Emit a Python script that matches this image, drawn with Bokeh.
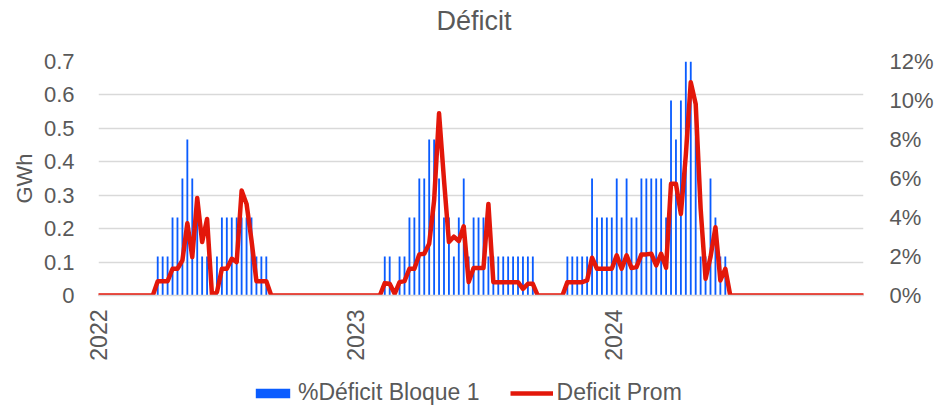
import math
import pandas as pd
from bokeh.plotting import figure
from bokeh.layouts import column
from bokeh.models import (Range1d, LinearAxis, FixedTicker, NumeralTickFormatter,
                          PrintfTickFormatter, CustomJSTickFormatter, Legend, LegendItem,
                          ColumnDataSource, Title)
from bokeh.embed import file_html
from bokeh.resources import INLINE

# ---------------- data ----------------
title_text = "Déficit"
bar_series_name = "%Déficit Bloque 1"
line_series_name = "Deficit Prom"
y_left_label = "GWh"
first_week = "2022-01-01"
year_ticks = ["2022-01-01", "2023-01-01", "2024-01-01"]
gwh_ticks = [0, 0.1, 0.2, 0.3, 0.4, 0.5, 0.6, 0.7]
pct_ticks = [0, 2, 4, 6, 8, 10, 12]

# weekly % deficit (bars, right axis)
deficit_pct = [
    0, 0, 0, 0, 0, 0, 0, 0, 0, 0, 0, 0,
    2, 2, 2, 4, 4, 6, 8, 6, 4, 2, 2, 0, 2, 4, 4, 4, 4, 4, 4, 4, 2, 2, 2,
    0, 0, 0, 0, 0, 0, 0, 0, 0, 0, 0, 0, 0, 0, 0, 0, 0, 0, 0, 0, 0, 0, 0,
    2, 2, 0, 2, 2, 4, 4, 6, 6, 8, 8, 6, 4, 4, 2, 4, 6, 2, 4, 4, 4, 2,
    2, 2, 2, 2, 2, 2, 2, 2, 2,
    0, 0, 0, 0, 0, 0,
    2, 2, 2, 2, 2, 6, 4, 4, 4, 4, 6, 4, 6, 4, 4, 6, 6, 6, 6, 6, 4,
    10, 8, 10, 12, 12, 10, 2, 2, 6, 4, 2, 2,
    0, 0, 0, 0, 0, 0, 0, 0, 0, 0, 0, 0, 0, 0, 0, 0, 0, 0, 0, 0, 0, 0, 0, 0, 0, 0, 0, 0,
]

# weekly average deficit in GWh (line, left axis)
deficit_gwh = [
    0, 0, 0, 0, 0, 0, 0, 0, 0, 0, 0, 0,
    0.043, 0.043, 0.043, 0.08, 0.08, 0.105, 0.216, 0.115, 0.292, 0.16, 0.229, 0.0,
    0.01, 0.08, 0.08, 0.11, 0.10, 0.314, 0.274, 0.165, 0.043, 0.043, 0.043,
    0, 0, 0, 0, 0, 0, 0, 0, 0, 0, 0, 0, 0, 0, 0, 0, 0, 0, 0, 0, 0, 0, 0,
    0.037, 0.035, 0.005, 0.04, 0.043, 0.08, 0.08, 0.123, 0.125, 0.155, 0.284, 0.545,
    0.346, 0.16, 0.176, 0.163, 0.207, 0.04, 0.082, 0.082, 0.082, 0.274,
    0.04, 0.04, 0.04, 0.04, 0.04, 0.04, 0.02, 0.035, 0.035,
    0, 0, 0, 0, 0, 0,
    0.04, 0.04, 0.04, 0.04, 0.045, 0.113, 0.08, 0.08, 0.08, 0.08, 0.12, 0.08, 0.12,
    0.082, 0.085, 0.123, 0.123, 0.125, 0.09, 0.125, 0.083, 0.334, 0.334, 0.244,
    0.42, 0.638, 0.573, 0.26, 0.05, 0.115, 0.204, 0.045, 0.08,
    0, 0, 0, 0, 0, 0, 0, 0, 0, 0, 0, 0, 0, 0, 0, 0, 0, 0, 0, 0, 0, 0, 0, 0, 0, 0, 0, 0,
]

# ---------------- styling ----------------
FONT = "Liberation Sans"
TXT = "#595959"
BLUE = "#0a5cff"
RED = "#e3170a"
GRID = "#d9d9d9"
FIG_W = 949

weeks = pd.date_range(first_week, periods=len(deficit_pct), freq="7D")
src = ColumnDataSource(dict(week=weeks, pct=deficit_pct, gwh=deficit_gwh))

p = figure(frame_width=765, frame_height=234, x_axis_type="datetime",
           output_backend="svg", toolbar_location=None,
           x_range=Range1d(weeks[0].to_pydatetime(), weeks[-1].to_pydatetime()),
           y_range=Range1d(gwh_ticks[0], gwh_ticks[-1]),
           min_border_left=98, min_border_right=86,
           min_border_top=61, min_border_bottom=80)
p.extra_y_ranges = {"pct": Range1d(pct_ticks[0], pct_ticks[-1])}
p.outline_line_color = None
p.background_fill_color = "white"
p.border_fill_color = "white"

bars = p.vbar(x="week", top="pct", width=2.6 * 86400000, source=src,
              y_range_name="pct", fill_color=BLUE, line_color=None)
line = p.line(x="week", y="gwh", source=src, line_width=4.5, color=RED,
              line_join="round", line_cap="round")

# x axis (below the frame)
xa = p.below[0]
year_ms = [pd.Timestamp(t).value / 1e6 for t in year_ticks]
xa.ticker = FixedTicker(ticks=year_ms)
xa.formatter = CustomJSTickFormatter(code="return String(new Date(tick).getUTCFullYear());")
xa.major_label_orientation = math.pi / 2
xa.axis_line_color = GRID
xa.axis_line_width = 1.5
xa.major_tick_line_color = None
xa.minor_tick_line_color = None
xa.major_tick_out = 0
xa.major_tick_in = 0
xa.major_label_text_font = FONT
xa.major_label_text_font_size = "23px"
xa.major_label_text_color = TXT
xa.major_label_standoff = 14

# title (outermost) and a blank spacer between it and the frame
p.title.text = title_text
p.title.align = "left"
p.title.offset = 338
p.title.text_font = FONT
p.title.text_font_size = "27px"
p.title.text_font_style = "normal"
p.title.text_color = TXT
p.title.standoff = 6
p.add_layout(Title(text=" ", text_font_size="1px", standoff=20), "above")

# grids
p.xgrid.visible = False
p.ygrid.grid_line_color = GRID
p.ygrid.grid_line_width = 1.5

# left axis
ya = p.left[0]
ya.ticker = FixedTicker(ticks=gwh_ticks)
ya.formatter = NumeralTickFormatter(format="0.[0]")
ya.axis_label = y_left_label
ya.axis_label_text_font = FONT
ya.axis_label_text_font_size = "22px"
ya.axis_label_text_font_style = "normal"
ya.axis_label_text_color = TXT
ya.axis_label_standoff = 4

# right axis
ra = LinearAxis(y_range_name="pct", ticker=FixedTicker(ticks=pct_ticks),
                formatter=PrintfTickFormatter(format="%d%%"))
p.add_layout(ra, "right")

for ax in (ya, ra):
    ax.axis_line_color = None
    ax.major_tick_line_color = None
    ax.minor_tick_line_color = None
    ax.major_label_text_font = FONT
    ax.major_label_text_font_size = "22px"
    ax.major_label_text_color = TXT
ya.major_label_standoff = 18
ra.major_label_standoff = 20

# legend strip below the chart (same series styles; its y view lies above all data)
lf = figure(width=FIG_W, height=34, x_range=p.x_range, y_range=Range1d(100, 101),
            toolbar_location=None, output_backend="svg", min_border=0,
            x_axis_location=None, y_axis_location=None)
lf.outline_line_color = None
lf.grid.visible = False
lf.border_fill_color = "white"
lf.background_fill_color = "white"
leg_bar = lf.vbar(x="week", top="pct", width=2.6 * 86400000, source=src,
                  fill_color=BLUE, line_color=None)
leg_line = lf.line(x="week", y="gwh", source=src, line_width=4.5, color=RED)

legend = Legend(items=[LegendItem(label=bar_series_name, renderers=[leg_bar]),
                       LegendItem(label=line_series_name, renderers=[leg_line])],
                orientation="horizontal", location=(153, 3),
                border_line_color=None, background_fill_alpha=0,
                label_text_font=FONT, label_text_font_size="23px",
                label_text_color=TXT, glyph_width=43, glyph_height=12,
                spacing=30, label_standoff=4, padding=0, margin=0)
lf.add_layout(legend)

layout = column(p, lf, spacing=0)
open("out.html", "w").write(file_html(layout, INLINE))
